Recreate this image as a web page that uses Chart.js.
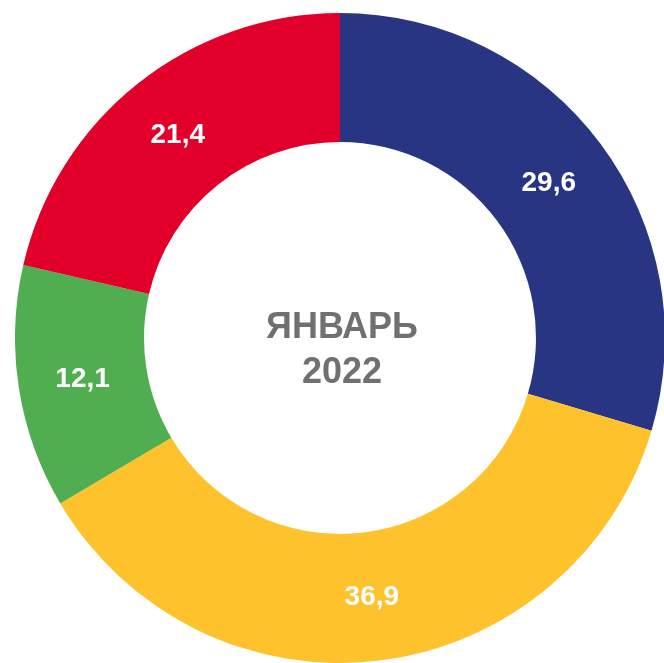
<!DOCTYPE html>
<html>
<head>
<meta charset="utf-8">
<script src="https://cdn.jsdelivr.net/npm/chart.js@4/dist/chart.umd.min.js"></script>
<style>
  html, body { margin: 0; padding: 0; background: #fff; overflow: hidden; }
  #wrap { position: absolute; left: 15px; top: 13px; width: 650px; height: 650px; }
</style>
</head>
<body>
<div id="wrap"><canvas id="myChart" width="650" height="650"></canvas></div>
<script>
var categories = ["Сегмент 1", "Сегмент 2", "Сегмент 3", "Сегмент 4"];
var shares = [29.6, 36.9, 12.1, 21.4];
var sliceColors = ["#283583", "#fec22d", "#51ae50", "#e2002b"];
var centerLines = ["ЯНВАРЬ", "2022"];

// подписи значений на секторах + текст в центре
var labelsPlugin = {
  id: "labelsPlugin",
  afterDatasetsDraw: function (chart) {
    var ctx = chart.ctx;
    var meta = chart.getDatasetMeta(0);
    ctx.save();
    ctx.fillStyle = "#ffffff";
    ctx.font = "bold 28px 'Liberation Sans', Arial, sans-serif";
    ctx.textAlign = "center";
    ctx.textBaseline = "middle";
    meta.data.forEach(function (arc, i) {
      var p = arc.tooltipPosition();
      ctx.fillText(shares[i].toFixed(1).replace(".", ","), p.x, p.y + 1);
    });

    var cx = (chart.chartArea.left + chart.chartArea.right) / 2;
    var cy = (chart.chartArea.top + chart.chartArea.bottom) / 2;
    ctx.fillStyle = "#707070";
    ctx.font = "bold 36px 'Liberation Sans', Arial, sans-serif";
    ctx.textBaseline = "alphabetic";
    ctx.fillText(centerLines[0], cx + 2, cy);
    ctx.fillText(centerLines[1], cx + 2, cy + 45);
    ctx.restore();
  }
};

new Chart("myChart", {
  type: "doughnut",
  data: {
    labels: categories,
    datasets: [{
      data: shares,
      backgroundColor: sliceColors,
      borderWidth: 0,
      hoverOffset: 0,
      offset: 0
    }]
  },
  options: {
    responsive: false,
    animation: false,
    cutout: "60.3%",
    layout: { padding: 0 },
    plugins: {
      legend: { display: false },
      tooltip: { enabled: false }
    },
    events: []
  },
  plugins: [labelsPlugin]
});
</script>
</body>
</html>
